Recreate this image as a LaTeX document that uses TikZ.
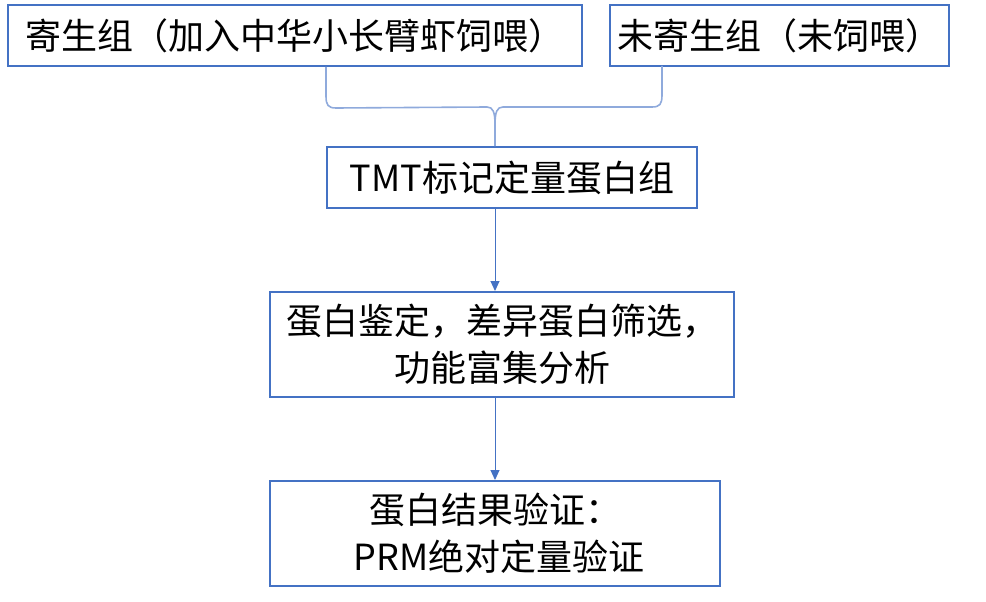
\documentclass[tikz,border=0pt]{standalone}
\usepackage{fontspec}
\setmainfont{Noto Sans CJK SC}
\usetikzlibrary{arrows.meta}
\definecolor{boxblue}{HTML}{4472C4}
\definecolor{braceblue}{HTML}{8FAADC}
\begin{document}
\begin{tikzpicture}[x=1pt,y=-1pt,
  box/.style={draw=boxblue,line width=2pt,fill=white,inner sep=0pt,font=\fontsize{36}{47}\selectfont,align=center},
  link/.style={draw=boxblue,line width=1pt,-{Triangle[width=9pt,length=10pt]}},
  bracel/.style={draw=braceblue,line width=1.6pt}]
\useasboundingbox (0,0) rectangle (986,602);
\node[box,minimum width=574pt,minimum height=61pt] (b1) at (295,35.5) {寄生组（加入中华小长臂虾饲喂）};
\node[box,minimum width=339pt,minimum height=61pt] (b2) at (779.5,35.5) {未寄生组（未饲喂）};
\node[box,minimum width=370pt,minimum height=61pt] (tmt) at (512,177.5) {TMT标记定量蛋白组};
\node[box,minimum width=464pt,minimum height=105pt] (b4) at (502,344.5) {蛋白鉴定，差异蛋白筛选，\\功能富集分析};
\node[box,minimum width=450pt,minimum height=105pt] (b5) at (495,533.5) {蛋白结果验证：\\\ PRM绝对定量验证};
\coordinate (bl) at (tmt.west |- b1.south);
\coordinate (br) at (662,66);
\coordinate (tip) at (b5.north |- tmt.north);
\draw[bracel] (bl) -- ++(0,29) .. controls ++(0,9) and ++(-8,0) .. ++(10,12) -- (487,107) .. controls (493,107) and (495,112) .. (495,125) -- (tip);
\draw[bracel] (br) -- ++(0,29) .. controls ++(0,9) and ++(8,0) .. ++(-10,12) -- (503,107) .. controls (497,107) and (495,112) .. (495,125);
\draw[link] (b5.north |- tmt.south) -- (b5.north |- b4.north);
\draw[link] (b5.north |- b4.south) -- (b5.north);
\end{tikzpicture}
\end{document}
